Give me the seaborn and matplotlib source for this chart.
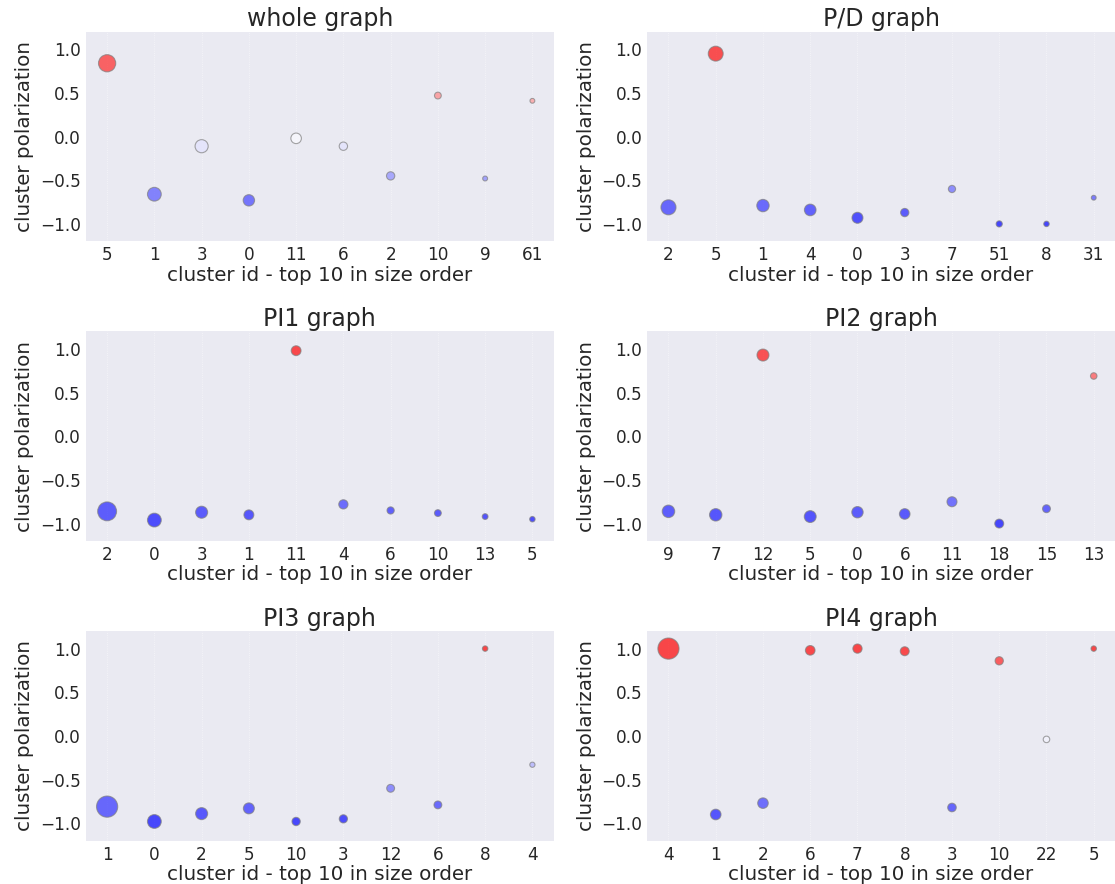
import pandas as pd
import matplotlib
matplotlib.use("Agg")
import matplotlib.pyplot as plt
import seaborn as sns

# cluster ids (top 10 by size), polarization and relative cluster size per graph
TITLES = ["whole graph", "P/D graph", "PI1 graph", "PI2 graph", "PI3 graph", "PI4 graph"]

whole_ids = ["5", "1", "3", "0", "11", "6", "2", "10", "9", "61"]
whole_pol = [0.84, -0.66, -0.11, -0.73, -0.02, -0.11, -0.45, 0.47, -0.48, 0.41]
whole_size = [320, 205, 185, 140, 120, 75, 74, 50, 26, 25]

pd_ids = ["2", "5", "1", "4", "0", "3", "7", "51", "8", "31"]
pd_pol = [-0.81, 0.95, -0.79, -0.84, -0.93, -0.87, -0.60, -1.0, -1.0, -0.70]
pd_size = [245, 240, 165, 146, 130, 74, 56, 41, 32, 25]

pi1_ids = ["2", "0", "3", "1", "11", "4", "6", "10", "13", "5"]
pi1_pol = [-0.86, -0.96, -0.87, -0.90, 0.98, -0.78, -0.85, -0.88, -0.92, -0.95]
pi1_size = [385, 205, 156, 106, 104, 92, 56, 50, 36, 32]

pi2_ids = ["9", "7", "12", "5", "0", "6", "11", "18", "15", "13"]
pi2_pol = [-0.86, -0.90, 0.93, -0.92, -0.87, -0.89, -0.75, -1.0, -0.83, 0.69]
pi2_size = [168, 166, 155, 152, 139, 121, 108, 86, 67, 46]

pi3_ids = ["1", "0", "2", "5", "10", "3", "12", "6", "8", "4"]
pi3_pol = [-0.81, -0.98, -0.89, -0.83, -0.98, -0.95, -0.60, -0.79, 1.0, -0.33]
pi3_size = [484, 205, 156, 130, 74, 73, 67, 66, 32, 29]

pi4_ids = ["4", "1", "2", "6", "7", "8", "3", "10", "22", "5"]
pi4_pol = [1.0, -0.90, -0.77, 0.98, 1.0, 0.97, -0.82, 0.86, -0.04, 1.0]
pi4_size = [484, 121, 120, 100, 92, 86, 79, 74, 46, 32]

GRAPHS = [
    (whole_ids, whole_pol, whole_size),
    (pd_ids, pd_pol, pd_size),
    (pi1_ids, pi1_pol, pi1_size),
    (pi2_ids, pi2_pol, pi2_size),
    (pi3_ids, pi3_pol, pi3_size),
    (pi4_ids, pi4_pol, pi4_size),
]


def main():
    sns.set_style("darkgrid")
    plt.rcParams["font.family"] = ["DejaVu Sans"]

    fig, axes = plt.subplots(3, 2, figsize=(11.15, 8.84), dpi=100)
    fig.subplots_adjust(left=0.077, right=1.0, top=0.964, bottom=0.049,
                        wspace=0.2, hspace=0.43)

    for ax, title, (ids, pol, size) in zip(axes.flat, TITLES, GRAPHS):
        df = pd.DataFrame({"cluster": ids, "polarization": pol, "size": size})
        sns.scatterplot(data=df, x="cluster", y="polarization",
                        hue="polarization", palette="bwr", hue_norm=(-1, 1),
                        size="size", sizes=(0, 240), size_norm=(0, 500),
                        alpha=0.7, edgecolor="grey", linewidth=0.8,
                        legend=False, ax=ax)
        ax.set_ylim(-1.2, 1.2)
        ax.set_yticks([-1.0, -0.5, 0.0, 0.5, 1.0])
        ax.grid(False)
        # faint dotted vertical grid only
        ax.grid(axis="x", color="white", linestyle=":", linewidth=0.6, alpha=0.6)
        ax.set_title(title, fontsize=17, color="#262626", pad=4)
        ax.set_xlabel("cluster id - top 10 in size order", fontsize=14.3,
                      color="#262626", labelpad=1)
        ax.set_ylabel("cluster polarization", fontsize=14.3, color="#262626")
        ax.tick_params(axis="both", labelsize=12.2, length=0, colors="#262626")
        for s in ax.spines.values():
            s.set_visible(False)

    plt.savefig("out.png", dpi=100)
    plt.close()


if __name__ == "__main__":
    main()
